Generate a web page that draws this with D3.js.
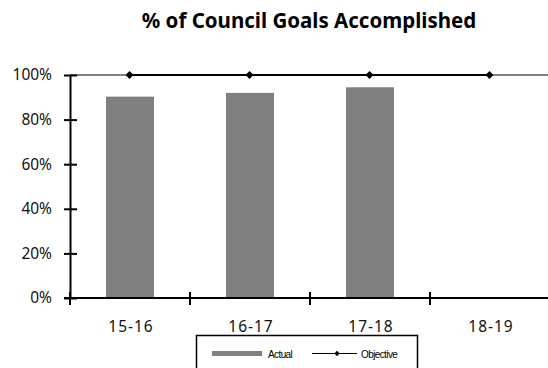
<!DOCTYPE html>
<html><head><meta charset="utf-8">
<script src="https://cdn.jsdelivr.net/npm/d3@7"></script>
<style>body{margin:0;background:#fff}svg{display:block}</style>
</head><body>
<svg id="c" width="548" height="368"></svg>
<script>
const categories = ["15-16", "16-17", "17-18", "18-19"];
const actual = [0.903, 0.92, 0.945, null];
const objective = [1, 1, 1, 1];
const yTicks = [0, 0.2, 0.4, 0.6, 0.8, 1.0];

const svg = d3.select("#c");
const xb = d3.scaleBand().domain(categories).range([70, 550]);
const y = d3.scaleLinear().domain([0, 1]).range([298, 75]);
const font = "'Noto Sans', 'Open Sans', sans-serif";

svg.append("text").attr("x", 309).attr("y", 28).attr("text-anchor", "middle")
  .attr("font-family", font).attr("font-weight", "bold").attr("font-size", 20.5)
  .text("% of Council Goals Accomplished");

// top gray line at 100%
svg.append("line").attr("x1", 70).attr("x2", 548).attr("y1", y(1)).attr("y2", y(1))
  .attr("stroke", "#808080").attr("stroke-width", 2);

// bars
svg.selectAll("rect.bar").data(categories.map((c, i) => ({c, v: actual[i]})).filter(d => d.v != null))
  .enter().append("rect").attr("class", "bar")
  .attr("x", d => xb(d.c) + xb.bandwidth() / 2 - 24).attr("width", 48)
  .attr("y", d => y(d.v)).attr("height", d => y(0) - y(d.v))
  .attr("fill", "#808080");

// objective line
const pts = categories.map((c, i) => [xb(c) + xb.bandwidth() / 2 - 0.5, y(objective[i])]);
svg.append("path").attr("d", d3.line()(pts)).attr("stroke", "#000").attr("stroke-width", 2).attr("fill", "none");
svg.selectAll("path.mk").data(pts).enter().append("path").attr("class", "mk")
  .attr("d", d3.symbol(d3.symbolDiamond2, 40)).attr("transform", d => `translate(${d[0]},${d[1]})`).attr("fill", "#000");

// y axis
const yAxis = d3.axisLeft(y).tickValues(yTicks).tickFormat(d3.format(".0%")).tickSize(0).tickPadding(18);
const gy = svg.append("g").attr("transform", "translate(70,0)").call(yAxis);
gy.select(".domain").attr("stroke", "#000").attr("stroke-width", 2);
gy.selectAll(".tick text").attr("font-family", font).attr("font-size", 15.5).attr("fill", "#111");
gy.selectAll(".tick").append("line").attr("x1", -6).attr("x2", 7).attr("stroke", "#000").attr("stroke-width", 2);

// x axis
const gx = svg.append("g").attr("transform", "translate(0,298)");
gx.append("line").attr("x1", 64).attr("x2", 548).attr("stroke", "#000").attr("stroke-width", 2);
gx.selectAll("line.t").data(categories).enter().append("line").attr("class", "t")
  .attr("x1", d => xb(d)).attr("x2", d => xb(d)).attr("y1", -6).attr("y2", 7)
  .attr("stroke", "#000").attr("stroke-width", 2);
gx.selectAll("text").data(categories).enter().append("text")
  .attr("x", d => xb(d) + xb.bandwidth() / 2 + 1).attr("y", 33.5).attr("text-anchor", "middle")
  .attr("font-family", font).attr("font-size", 15.5).attr("letter-spacing", 1).attr("fill", "#111").text(d => d);

// legend
const lg = svg.append("g");
lg.append("rect").attr("x", 196.5).attr("y", 335.5).attr("width", 221).attr("height", 40)
  .attr("fill", "#fff").attr("stroke", "#000").attr("stroke-width", 1.5);
lg.append("rect").attr("x", 212).attr("y", 351).attr("width", 50).attr("height", 5).attr("fill", "#808080");
lg.append("text").attr("x", 268).attr("y", 357.5).attr("font-family", "'Liberation Sans', Arial, sans-serif")
  .attr("font-size", 10).attr("letter-spacing", -0.6).text("Actual");
lg.append("line").attr("x1", 312).attr("x2", 357).attr("y1", 353.5).attr("y2", 353.5).attr("stroke", "#000").attr("stroke-width", 1.2);
lg.append("path").attr("d", d3.symbol(d3.symbolDiamond2, 18)).attr("transform", "translate(337,353.5)").attr("fill", "#000");
lg.append("text").attr("x", 361).attr("y", 357.5).attr("font-family", "'Liberation Sans', Arial, sans-serif")
  .attr("font-size", 10).attr("letter-spacing", -0.6).text("Objective");
</script>
</body></html>
